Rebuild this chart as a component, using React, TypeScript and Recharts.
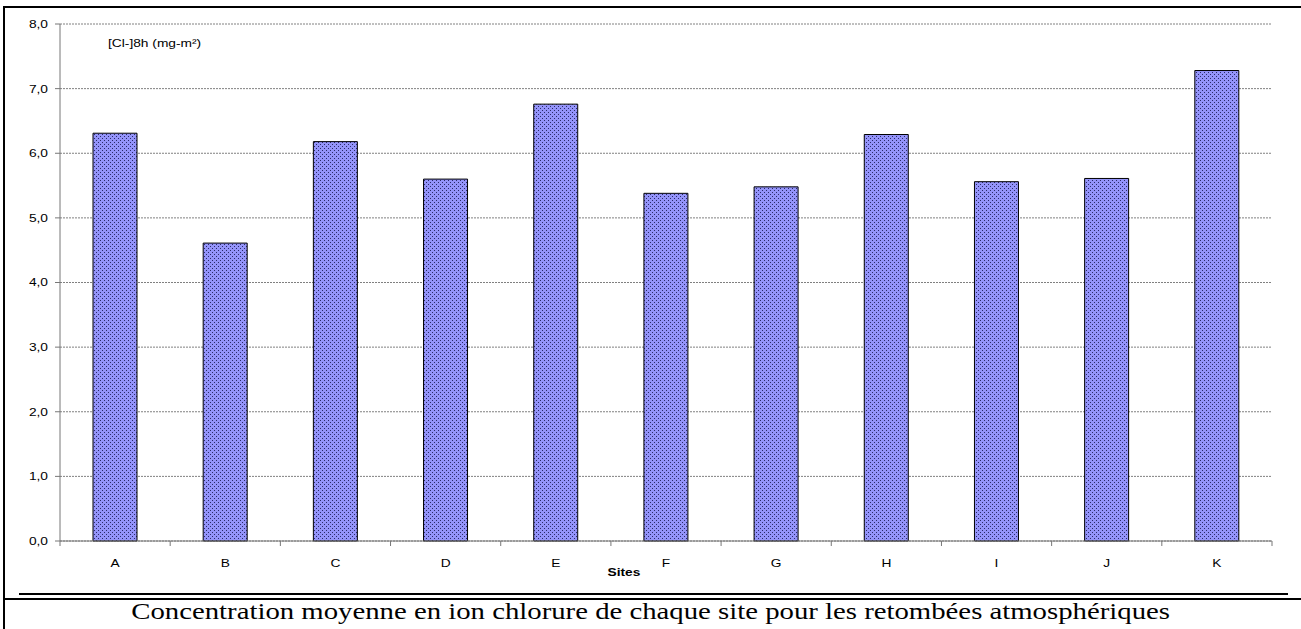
import React from 'react';
import { BarChart, Bar, XAxis, YAxis, CartesianGrid } from 'recharts';

// Mean chloride ion concentration per site
const sites = ['A', 'B', 'C', 'D', 'E', 'F', 'G', 'H', 'I', 'J', 'K'];
const chloride = [6.31, 4.61, 6.18, 5.6, 6.76, 5.38, 5.48, 6.29, 5.56, 5.61, 7.28];
const yTicks = [0, 1, 2, 3, 4, 5, 6, 7, 8];

const data = sites.map((site, i) => ({ site, value: chloride[i] }));

const fmt = (v: number) => v.toFixed(1).replace('.', ',');

const SANS = 'Liberation Sans, Arial, sans-serif';
const STRETCH = 1.25;
const AXIS = '#777';
const X_TICK_SIZE = 6;
const X_TICK_MARGIN = 12;

const stretchAt = (x: number) => `translate(${x} 0) scale(${STRETCH} 1) translate(${-x} 0)`;

const YTick = (props: any) => {
  const { x, y, payload } = props;
  return (
    <text x={x} y={y} dy="0.36em" textAnchor="end" fontFamily={SANS} fontSize={11} fill="#000" transform={stretchAt(x)}>
      {fmt(payload.value)}
    </text>
  );
};

// Category label at the band centre, with tick marks on the band edges
const XTick = (props: any) => {
  const { x, y, payload, index, width, visibleTicksCount } = props;
  const half = width / visibleTicksCount / 2;
  const axisY = y - X_TICK_SIZE - X_TICK_MARGIN;
  return (
    <g>
      <line x1={x - half} x2={x - half} y1={axisY} y2={axisY + 5} stroke={AXIS} />
      {index === visibleTicksCount - 1 && (
        <line x1={x + half} x2={x + half} y1={axisY} y2={axisY + 5} stroke={AXIS} />
      )}
      <text x={x} y={y} dy="0.71em" textAnchor="middle" fontFamily={SANS} fontSize={11} fill="#000" transform={stretchAt(x)}>
        {payload.value}
      </text>
    </g>
  );
};

export default function App() {
  return (
    <div style={{ position: 'absolute', left: 0, top: 0, width: 1301, height: 629, background: '#fff', overflow: 'hidden' }}>
      <svg width={0} height={0} style={{ position: 'absolute' }}>
        <defs>
          <pattern id="dots" width={4} height={4} patternUnits="userSpaceOnUse">
            <rect width={4} height={4} fill="#9494fa" />
            <rect x={0} y={0} width={1} height={1} fill="#2a2a6a" />
            <rect x={2} y={2} width={1} height={1} fill="#2a2a6a" />
          </pattern>
        </defs>
      </svg>
      <div style={{ position: 'absolute', left: 0, top: 0 }}>
        <BarChart
          width={1301}
          height={629}
          data={data}
          margin={{ top: 24, right: 29, bottom: 58, left: 0 }}
        >
          <CartesianGrid vertical={false} stroke="#808080" strokeDasharray="2 1" />
          <XAxis
            dataKey="site"
            height={30}
            tickLine={false}
            tickSize={X_TICK_SIZE}
            axisLine={{ stroke: AXIS }}
            tick={<XTick />}
            tickMargin={X_TICK_MARGIN}
            interval={0}
          />
          <YAxis
            width={60}
            domain={[0, 8]}
            ticks={yTicks}
            tick={<YTick />}
            tickSize={5}
            tickMargin={7}
            tickLine={{ stroke: AXIS }}
            axisLine={{ stroke: AXIS }}
            interval={0}
          />
          <Bar
            dataKey="value"
            fill="url(#dots)"
            stroke="#000"
            strokeWidth={1}
            barSize={44}
            isAnimationActive={false}
          />
        </BarChart>
      </div>
      <div style={{ position: 'absolute', left: 108, top: 37, fontFamily: SANS, fontSize: 11, transform: `scaleX(${STRETCH})`, transformOrigin: '0 0', whiteSpace: 'nowrap' }}>
        [Cl-]8h (mg-m²)
      </div>
      <div style={{ position: 'absolute', left: 574, top: 566, width: 100, textAlign: 'center', fontFamily: SANS, fontSize: 11, fontWeight: 'bold', transform: `scaleX(${STRETCH})`, transformOrigin: '50% 0' }}>
        Sites
      </div>
      {/* frame */}
      <div style={{ position: 'absolute', left: 3, top: 6, width: 1298, height: 2, background: '#000' }} />
      <div style={{ position: 'absolute', left: 3, top: 6, width: 2, height: 623, background: '#000' }} />
      <div style={{ position: 'absolute', left: 19, top: 593, width: 1269, height: 2, background: '#000' }} />
      <div style={{ position: 'absolute', left: 3, top: 598, width: 1298, height: 2, background: '#000' }} />
      <div style={{ position: 'absolute', left: 0, top: 599, width: 1301, textAlign: 'center', fontFamily: 'Liberation Serif, Times New Roman, serif', fontSize: 23, color: '#000', whiteSpace: 'nowrap', transform: `scaleX(${STRETCH})`, transformOrigin: '650px 0' }}>
        Concentration moyenne en ion chlorure de chaque site pour les retombées atmosphériques
      </div>
    </div>
  );
}
